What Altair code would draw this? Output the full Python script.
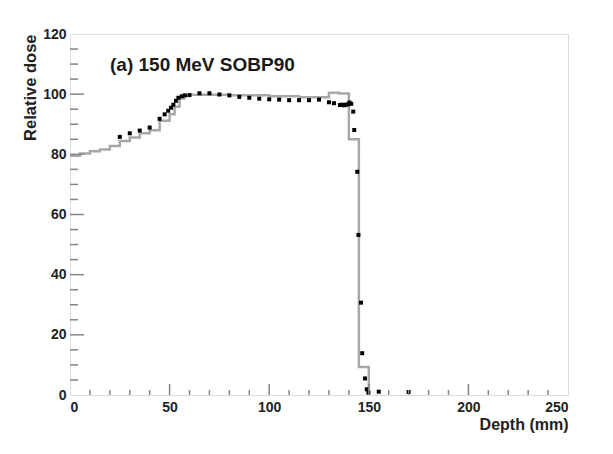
import altair as alt
import pandas as pd

# Simulated dose (step histogram)
hist_depth = [0, 5, 10, 15, 20, 25, 30, 35, 40, 45, 50, 52.5, 55, 57.5, 60, 80, 100, 115, 130, 135, 140, 145, 150]
hist_dose = [79.5, 80.3, 81.0, 81.6, 82.8, 84.4, 85.6, 87.0, 88.0, 91.2, 93.3, 95.8, 98.6, 99.5, 99.8, 99.6, 99.3, 99.0, 100.5, 100.2, 85.0, 9.3, 0]

# Measured dose (points)
meas_depth = [25, 30, 35, 40, 45, 47.5, 49.3, 50.7, 51.9, 53.2, 54.4, 56.1, 57.7, 60, 65, 70, 75, 80, 85, 90,
              95, 100, 105, 110, 115, 120, 125, 130, 132.5, 135.5, 136.5, 137.5, 138.5, 139.5, 140.3, 141.2,
              142.2, 142.7, 144.2, 144.8, 146.1, 146.7, 148.1, 149.0, 149.8, 155, 170]
meas_dose = [85.8, 87.0, 87.9, 88.9, 91.8, 93.3, 94.5, 95.5, 96.5, 97.8, 98.8, 99.3, 99.6, 99.7, 100.3, 100.3, 99.9, 99.6, 99.1, 98.8,
             98.5, 98.3, 98.2, 98.0, 98.0, 98.0, 98.2, 97.3, 97.0, 96.4, 96.5, 96.3, 96.5, 96.6, 97.2, 96.8,
             94.2, 88.1, 74.2, 53.2, 30.7, 13.9, 5.5, 1.9, 0.8, 1.1, 1.0]

x_major = [0, 50, 100, 150, 200, 250]
x_minor = [v for v in range(10, 250, 10) if v % 50 != 0]
y_major = [0, 20, 40, 60, 80, 100, 120]
y_minor = [v for v in range(5, 120, 5) if v % 20 != 0]

panel_label = "(a) 150 MeV SOBP90"

W, H = 498, 361
FONT = "Liberation Sans"
GRAY = "#858585"

hist_df = pd.DataFrame({"depth": hist_depth, "dose": hist_dose})
meas_df = pd.DataFrame({"depth": meas_depth, "dose": meas_dose})

xs = alt.Scale(domain=[0, 250], nice=False, zero=False)
ys = alt.Scale(domain=[0, 120], nice=False, zero=False)

x_axis = alt.Axis(values=x_major, ticks=False, domain=False, grid=False, format="d",
                  labelPadding=5, labelFontSize=14, labelFont=FONT, labelFontWeight="bold", labelColor="#222",
                  title="Depth (mm)", titleAnchor="end", titleFontSize=16, titleFont=FONT,
                  titleFontWeight="bold", titleColor="#222", titlePadding=2)
y_axis = alt.Axis(values=y_major, ticks=False, domain=False, grid=False, format="d",
                  labelPadding=4, labelFontSize=14, labelFont=FONT, labelFontWeight="bold", labelColor="#222",
                  title="Relative dose", titleAnchor="end", titleFontSize=16.5, titleFont=FONT,
                  titleFontWeight="bold", titleColor="#222", titlePadding=4)

hist = alt.Chart(hist_df).mark_line(interpolate="step-after", color="#a8a8a8", strokeWidth=2.5).encode(
    x=alt.X("depth:Q", scale=xs, axis=x_axis),
    y=alt.Y("dose:Q", scale=ys, axis=y_axis),
)

pts = alt.Chart(meas_df).mark_square(color="black", size=16, opacity=1).encode(
    x=alt.X("depth:Q", scale=xs),
    y=alt.Y("dose:Q", scale=ys),
)

def yticks(vals, length):
    return alt.Chart(pd.DataFrame({"v": vals})).mark_rule(color=GRAY, strokeWidth=1.5).encode(
        y=alt.Y("v:Q", scale=ys), x=alt.value(0), x2=alt.value(length))

def xticks(vals, length):
    return alt.Chart(pd.DataFrame({"v": vals})).mark_rule(color=GRAY, strokeWidth=1.5).encode(
        x=alt.X("v:Q", scale=xs), y=alt.value(H), y2=alt.value(H - length))

label = alt.Chart(pd.DataFrame({"t": [panel_label]})).mark_text(
    align="left", baseline="middle", fontSize=19, fontWeight="bold", font=FONT, color="#1a1a1a"
).encode(text="t:N", x=alt.value(40), y=alt.value(31))

chart = alt.layer(
    hist, pts,
    yticks(y_major[1:-1], 14), yticks(y_minor, 8),
    xticks(x_major[1:-1], 11), xticks(x_minor, 5),
    label,
).properties(
    width=W, height=H,
    autosize=alt.AutoSizeParams(type="none"),
    padding={"left": 62, "top": 26, "right": 37, "bottom": 51},
).configure_view(stroke=GRAY, strokeWidth=2.2).configure(background="white")

chart.save("out.html", embed_options={"renderer": "svg", "actions": False})
